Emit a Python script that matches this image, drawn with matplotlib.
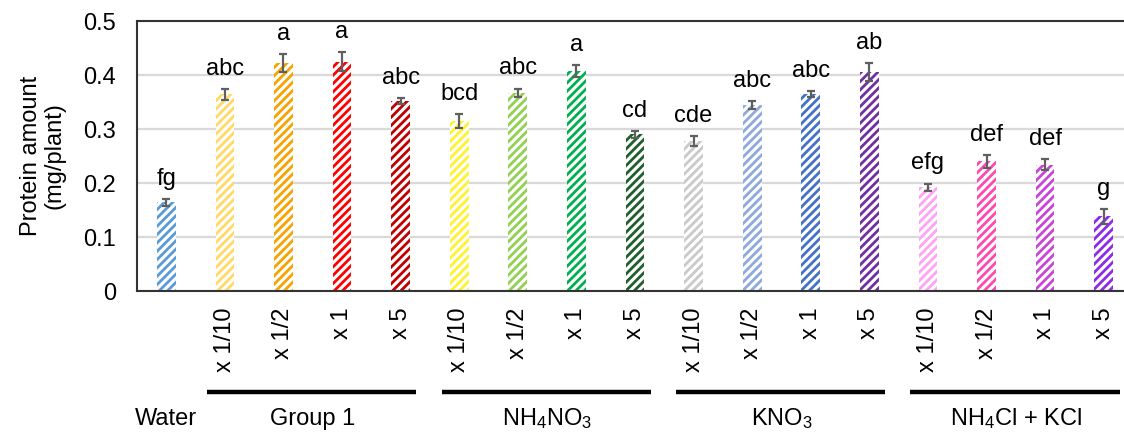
import matplotlib
matplotlib.use("Agg")
import matplotlib.pyplot as plt

plt.rcParams['font.family'] = ['Liberation Sans', 'DejaVu Sans']
plt.rcParams['mathtext.default'] = 'regular'
plt.rcParams['hatch.linewidth'] = 2.0

# ---- data ----
tick_labels = ["", "x 1/10", "x 1/2", "x 1", "x 5",
               "x 1/10", "x 1/2", "x 1", "x 5",
               "x 1/10", "x 1/2", "x 1", "x 5",
               "x 1/10", "x 1/2", "x 1", "x 5"]
values = [0.164,
          0.364, 0.422, 0.425, 0.352,
          0.315, 0.367, 0.408, 0.290,
          0.278, 0.344, 0.365, 0.405,
          0.192, 0.240, 0.234, 0.138]
errors = [0.006,
          0.010, 0.017, 0.017, 0.005,
          0.013, 0.008, 0.011, 0.007,
          0.009, 0.007, 0.006, 0.017,
          0.007, 0.012, 0.010, 0.014]
letters = ["fg",
           "abc", "a", "a", "abc",
           "bcd", "abc", "a", "cd",
           "cde", "abc", "abc", "ab",
           "efg", "def", "def", "g"]
colors = ["#5B9BD5",
          "#FFD966", "#F5A300", "#FF0000", "#C00000",
          "#FFF22E", "#92D050", "#00B050", "#1F5F2C",
          "#C9C9C9", "#8EA9DB", "#4472C4", "#7030A0",
          "#FFA3F5", "#FF47B0", "#C846D6", "#8E2BE6"]
groups = ["Group 1", "NH$_4$NO$_3$", "KNO$_3$", "NH$_4$Cl + KCl"]
group_ranges = [(1, 4), (5, 8), (9, 12), (13, 16)]

# ---- figure ----
W, H = 1124, 434
fig = plt.figure(figsize=(W / 100, H / 100), dpi=100)
ax_l, ax_r, ax_t, ax_b = 137, 1133, 21, 291
ax = fig.add_axes([ax_l / W, 1 - ax_b / H, (ax_r - ax_l) / W, (ax_b - ax_t) / H])

x = list(range(len(values)))
ax.bar(x, values, width=0.32, color='white', edgecolor=colors, hatch='////',
       linewidth=0, zorder=2)
ax.errorbar(x, values, yerr=errors, fmt='none', ecolor='#5F5F5F',
            elinewidth=1.6, capsize=3, capthick=1.6, zorder=3)

for xi, v, e, t in zip(x, values, errors, letters):
    ax.text(xi, v + e + 0.026, t, ha='center', va='baseline', fontsize=17,
            color='black', zorder=4)

ax.set_xlim(-0.5, 16.5)
ax.set_ylim(0, 0.5)
ax.set_yticks([0, 0.1, 0.2, 0.3, 0.4, 0.5])
ax.set_yticklabels(["0", "0.1", "0.2", "0.3", "0.4", "0.5"])
ax.set_xticks(x)
ax.set_xticklabels(tick_labels, rotation=90, va='top', ha='center')
ax.tick_params(axis='y', length=0, pad=15, labelsize=17)
ax.tick_params(axis='x', length=0, pad=12, labelsize=17)

ax.grid(axis='y', color='#D9D9D9', linewidth=1.6, zorder=0)
ax.set_axisbelow(True)
for side in ['left', 'bottom', 'top']:
    ax.spines[side].set_color('#333333')
    ax.spines[side].set_linewidth(1.5)
ax.spines['right'].set_visible(False)

ax.set_ylabel("Protein amount\n(mg/plant)", fontsize=17, linespacing=1.1)
ax.yaxis.set_label_coords(-(ax_l - 66) / (ax_r - ax_l), 0.5)

trans = ax.get_xaxis_transform()
line_y = -(392 - ax_b) / (ax_b - ax_t)
label_y = -(419 - ax_b) / (ax_b - ax_t)
for name, (g0, g1) in zip(groups, group_ranges):
    ax.plot([g0 - 0.3, g1 + 0.27], [line_y, line_y], transform=trans,
            color='black', linewidth=3.2, clip_on=False, solid_capstyle='butt')
    ax.text((g0 + g1) / 2, label_y, name, transform=trans, ha='center',
            va='center', fontsize=17)
ax.text(0, label_y, "Water", transform=trans, ha='center', va='center',
        fontsize=17)

fig.savefig("out.png", dpi=100)
